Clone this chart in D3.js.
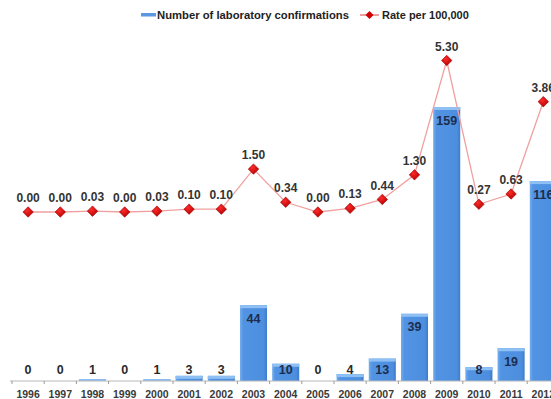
<!DOCTYPE html>
<html>
<head>
<meta charset="utf-8">
<script src="https://cdn.jsdelivr.net/npm/d3@7"></script>
<style>
  html, body { margin: 0; padding: 0; background: #fff; }
  svg { display: block; font-family: "Liberation Sans", Arial, sans-serif; }
</style>
</head>
<body>
<svg id="chart" width="551" height="399"></svg>
<script>
// Laboratory confirmations per year with the rate per 100,000 overlaid
const years = ["1996","1997","1998","1999","2000","2001","2002","2003","2004",
               "2005","2006","2007","2008","2009","2010","2011","2012"];
const confirmations = [0,0,1,0,1,3,3,44,10,0,4,13,39,159,8,19,116];
const rates = [0.00,0.00,0.03,0.00,0.03,0.10,0.10,1.50,0.34,0.00,0.13,0.44,1.30,5.30,0.27,0.63,3.86];
const legendLabels = ["Number of laboratory confirmations", "Rate per 100,000"];

const svg = d3.select("#chart");
const W = 551, H = 399;
const axisY = 381;
const step = 32.2;
const left = 12;

const x = d3.scaleBand()
  .domain(years)
  .range([left, left + step * years.length])
  .paddingInner(0.16)
  .paddingOuter(0.08);

const yBar = d3.scaleLinear().domain([0, 159]).range([axisY, 107]);
const yRate = d3.scaleLinear().domain([0, 5.3]).range([212, 60.5]);

const defs = svg.append("defs");
const grad = defs.append("linearGradient").attr("id", "barGrad")
  .attr("x1", 0).attr("x2", 1).attr("y1", 0).attr("y2", 0);
grad.append("stop").attr("offset", "0%").attr("stop-color", "#74adee");
grad.append("stop").attr("offset", "12%").attr("stop-color", "#5294e3");
grad.append("stop").attr("offset", "88%").attr("stop-color", "#4d8edf");
grad.append("stop").attr("offset", "100%").attr("stop-color", "#3c7bc9");

const dGrad = defs.append("radialGradient").attr("id", "dGrad")
  .attr("cx", "40%").attr("cy", "35%").attr("r", "70%");
dGrad.append("stop").attr("offset", "0%").attr("stop-color", "#ff2a2a");
dGrad.append("stop").attr("offset", "100%").attr("stop-color", "#b00000");

// Bars
const bars = svg.append("g");
bars.selectAll("rect.bar")
  .data(confirmations)
  .join("rect")
  .attr("class", "bar")
  .attr("x", (d, i) => x(years[i]))
  .attr("width", x.bandwidth())
  .attr("y", d => yBar(d))
  .attr("height", d => axisY - yBar(d))
  .attr("fill", "url(#barGrad)");

// Light bevel on the top edge of each bar
bars.selectAll("rect.cap")
  .data(confirmations.map((d, i) => ({ d, i })).filter(o => o.d > 0))
  .join("rect")
  .attr("class", "cap")
  .attr("x", o => x(years[o.i]))
  .attr("width", x.bandwidth())
  .attr("y", o => yBar(o.d))
  .attr("height", o => Math.min(3, axisY - yBar(o.d)))
  .attr("fill", "#8fc0f4");

// Bar value labels
svg.append("g").selectAll("text")
  .data(confirmations)
  .join("text")
  .attr("x", (d, i) => x(years[i]) + x.bandwidth() / 2)
  .attr("y", d => Math.min(yBar(d) + 13, 369))
  .attr("dy", "0.36em")
  .attr("text-anchor", "middle")
  .attr("font-size", 12.5)
  .attr("font-weight", "bold")
  .attr("fill", d => d >= 8 ? "#1c2c4c" : "#2a2a2a")
  .text(d => d);

// Category axis
const axis = svg.append("g");
axis.append("line")
  .attr("x1", left - 2).attr("x2", W)
  .attr("y1", axisY).attr("y2", axisY)
  .attr("stroke", "#b8b8b8").attr("stroke-width", 1);
axis.selectAll("line.tick")
  .data(d3.range(years.length + 1))
  .join("line")
  .attr("class", "tick")
  .attr("x1", i => left + i * step).attr("x2", i => left + i * step)
  .attr("y1", axisY).attr("y2", axisY + 3)
  .attr("stroke", "#9a9a9a");
axis.selectAll("text")
  .data(years)
  .join("text")
  .attr("x", d => x(d) + x.bandwidth() / 2)
  .attr("y", 394)
  .attr("dy", "0.35em")
  .attr("text-anchor", "middle")
  .attr("font-size", 10.5)
  .attr("font-weight", "bold")
  .attr("fill", "#3a3a3a")
  .text(d => d);

// Rate line
const line = d3.line()
  .x((d, i) => x(years[i]) + x.bandwidth() / 2)
  .y(d => yRate(d));
svg.append("path")
  .datum(rates)
  .attr("d", line)
  .attr("fill", "none")
  .attr("stroke", "#f0a0a0")
  .attr("stroke-width", 1.3);

const diamond = d3.symbol().type(d3.symbolDiamond2).size(70);
svg.append("g").selectAll("path")
  .data(rates)
  .join("path")
  .attr("transform", (d, i) => `translate(${x(years[i]) + x.bandwidth() / 2},${yRate(d)})`)
  .attr("d", diamond)
  .attr("fill", "url(#dGrad)")
  .attr("stroke", "#a00000")
  .attr("stroke-width", 0.6);

svg.append("g").selectAll("text")
  .data(rates)
  .join("text")
  .attr("x", (d, i) => x(years[i]) + x.bandwidth() / 2)
  .attr("y", d => yRate(d) - 14)
  .attr("dy", "0.35em")
  .attr("text-anchor", "middle")
  .attr("font-size", 12)
  .attr("font-weight", "bold")
  .attr("fill", "#333")
  .text(d => d.toFixed(2));

// Legend
const lg = svg.append("g");
lg.append("rect")
  .attr("x", 141).attr("y", 13).attr("width", 15).attr("height", 3.5)
  .attr("fill", "#5a98e4");
lg.append("text")
  .attr("x", 157).attr("y", 15).attr("dy", "0.35em")
  .attr("font-size", 11).attr("font-weight", "bold").attr("fill", "#222")
  .attr("textLength", 192).attr("lengthAdjust", "spacingAndGlyphs")
  .text(legendLabels[0]);
lg.append("line")
  .attr("x1", 360).attr("x2", 379).attr("y1", 15).attr("y2", 15)
  .attr("stroke", "#e06060").attr("stroke-width", 1.2);
lg.append("path")
  .attr("transform", "translate(369.5,15)")
  .attr("d", d3.symbol().type(d3.symbolDiamond2).size(40))
  .attr("fill", "#d00000");
lg.append("text")
  .attr("x", 382).attr("y", 15).attr("dy", "0.35em")
  .attr("font-size", 11).attr("font-weight", "bold").attr("fill", "#222")
  .text(legendLabels[1]);
</script>
</body>
</html>
